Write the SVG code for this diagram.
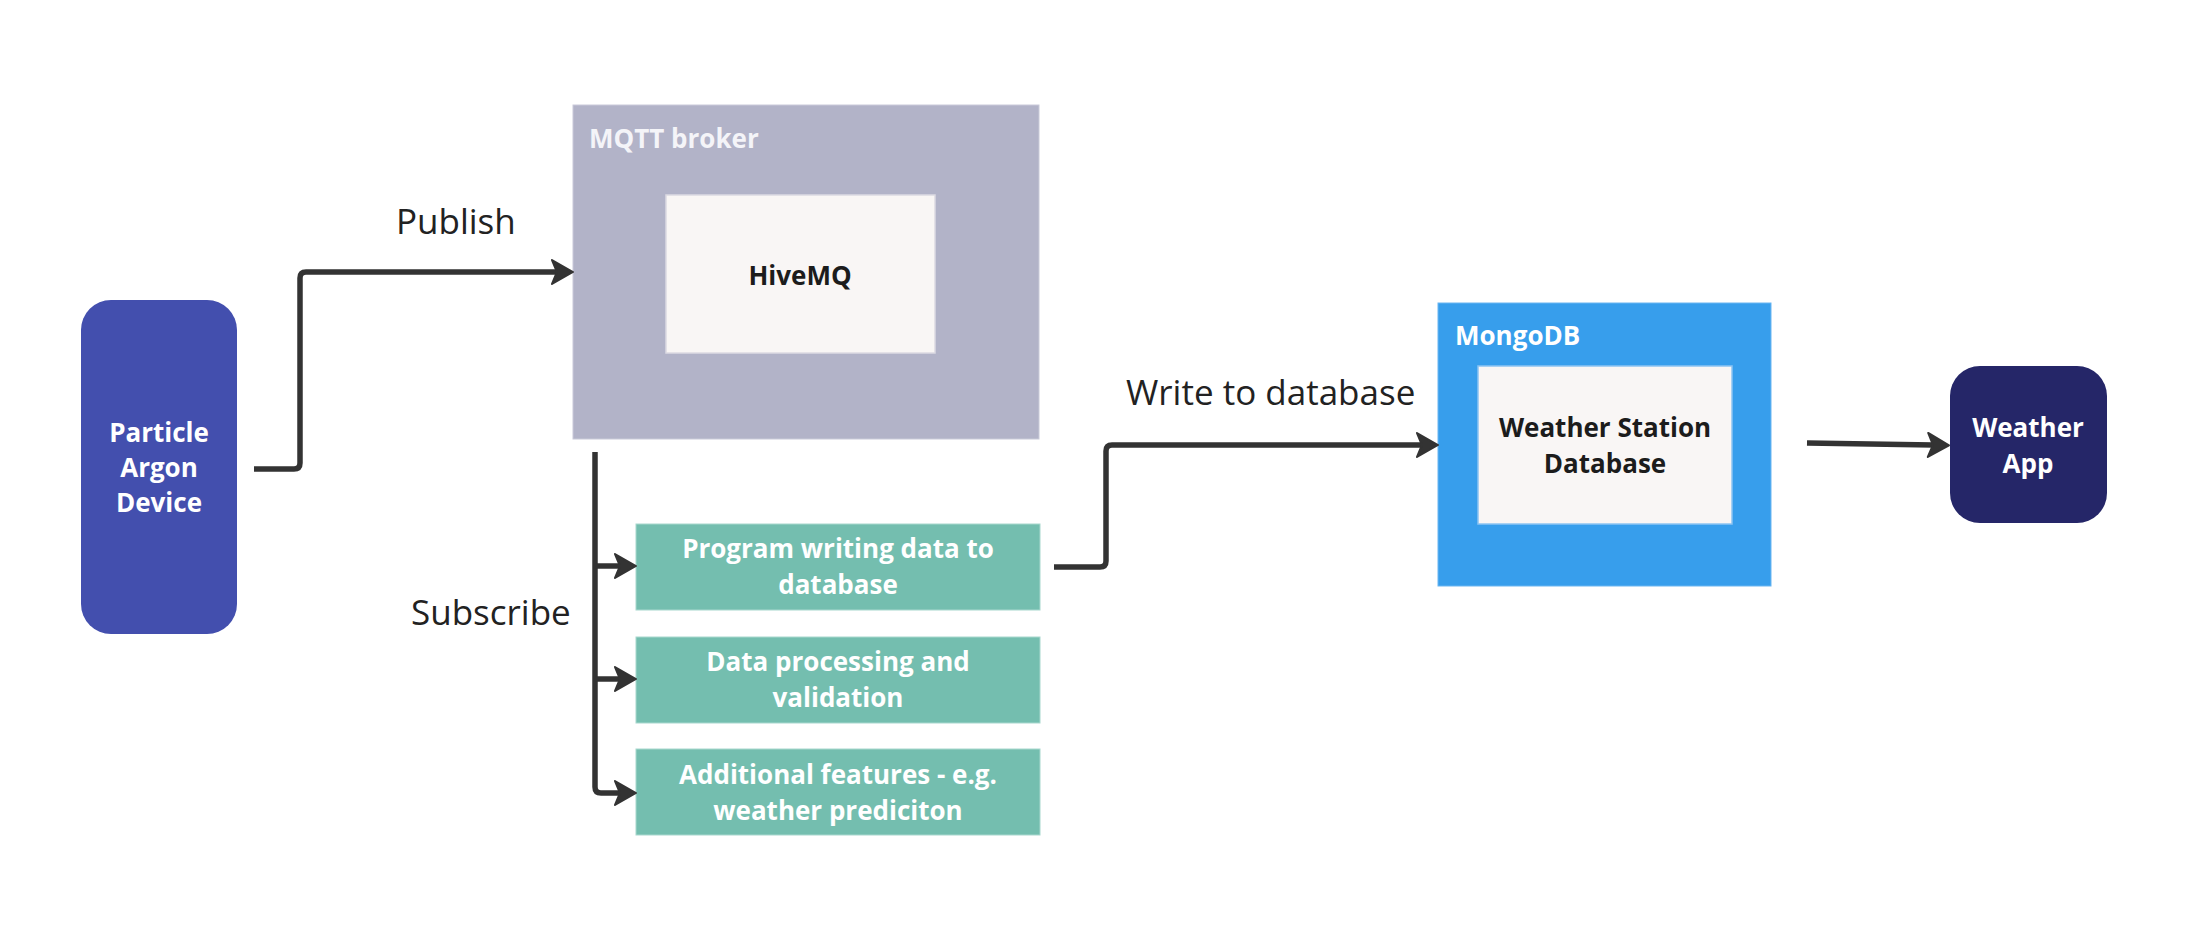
<svg xmlns="http://www.w3.org/2000/svg" width="2198" height="940" viewBox="0 0 2198 940">
<defs>
<style>
.lbl{font-family:"Open Sans","Noto Sans","Liberation Sans",sans-serif;font-weight:700;font-size:26px;text-anchor:middle;fill:#ffffff}
.dark{fill:#1c1c1c}
.title{font-family:"Open Sans","Noto Sans","Liberation Sans",sans-serif;font-weight:700;font-size:26px;fill:#f4f4f8}
.edge{font-family:"Open Sans","Noto Sans","Liberation Sans",sans-serif;font-weight:400;font-size:35px;fill:#222222}
.conn{fill:none;stroke:#333333;stroke-width:5.5;marker-end:url(#arr)}
.teal{fill:#74BEAF;stroke:#A8D8CE;stroke-width:1}
.inner{fill:#F9F6F5;stroke:#DCDAE2;stroke-width:1.5}
</style>
<marker id="arr" markerUnits="userSpaceOnUse" markerWidth="40" markerHeight="40" viewBox="-10 -20 40 40" refX="0" refY="0" orient="auto" overflow="visible">
<path d="M -5 -12 L 16 0 L -5 12 L 0 0 Z" fill="#333333" stroke="#333333" stroke-width="2" stroke-linejoin="round"/>
</marker>
</defs>
<rect width="2198" height="940" fill="#ffffff"/>

<g id="particle">
<rect x="81" y="300" width="156" height="334" rx="30" fill="#434FAE"/>
<text class="lbl" x="159" y="442">Particle</text>
<text class="lbl" x="159" y="477">Argon</text>
<text class="lbl" x="159" y="512">Device</text>
</g>

<g id="mqtt">
<rect x="573" y="105" width="466" height="334" fill="#B2B3C8" stroke="#C9CAD9" stroke-width="1"/>
<text class="title" x="589" y="148">MQTT broker</text>
</g>

<g id="hivemq">
<rect class="inner" x="666" y="195" width="269" height="158"/>
<text class="lbl dark" x="800" y="285">HiveMQ</text>
</g>

<g id="prog">
<rect class="teal" x="636" y="524" width="404" height="86"/>
<text class="lbl" x="838" y="558">Program writing data to</text>
<text class="lbl" x="838" y="594">database</text>
</g>

<g id="proc">
<rect class="teal" x="636" y="637" width="404" height="86"/>
<text class="lbl" x="838" y="671">Data processing and</text>
<text class="lbl" x="838" y="707">validation</text>
</g>

<g id="extra">
<rect class="teal" x="636" y="749" width="404" height="86"/>
<text class="lbl" x="838" y="784">Additional features - e.g.</text>
<text class="lbl" x="838" y="820">weather prediciton</text>
</g>

<g id="mongodb">
<rect x="1438" y="303" width="333" height="283" fill="#379EEC" stroke="#6BB6F2" stroke-width="1"/>
<text class="title" x="1455" y="345" style="fill:#ffffff">MongoDB</text>
</g>

<g id="wsdb">
<rect class="inner" x="1478" y="366" width="254" height="158" style="stroke:#8CC4F2"/>
<text class="lbl dark" x="1605" y="437">Weather Station</text>
<text class="lbl dark" x="1605" y="473">Database</text>
</g>

<g id="weatherapp">
<rect x="1950" y="366" width="157" height="157" rx="30" fill="#252668"/>
<text class="lbl" x="2028" y="437">Weather</text>
<text class="lbl" x="2028" y="473">App</text>
</g>

<g id="connectors">
<path class="conn" d="M 254 469 H 294 Q 300 469 300 463 V 278 Q 300 272 306 272 H 557"/>
<path class="conn" d="M 595 452 V 787 Q 595 793 601 793 H 620"/>
<path class="conn" d="M 595 566 H 620"/>
<path class="conn" d="M 595 679 H 620"/>
<path class="conn" d="M 1054 567 H 1100 Q 1106 567 1106 561 V 451 Q 1106 445 1112 445 H 1422"/>
<path class="conn" d="M 1807 443 L 1933 445"/>
<text class="edge" x="396" y="234">Publish</text>
<text class="edge" x="411" y="625">Subscribe</text>
<text class="edge" x="1126" y="405">Write to database</text>
</g>
</svg>
